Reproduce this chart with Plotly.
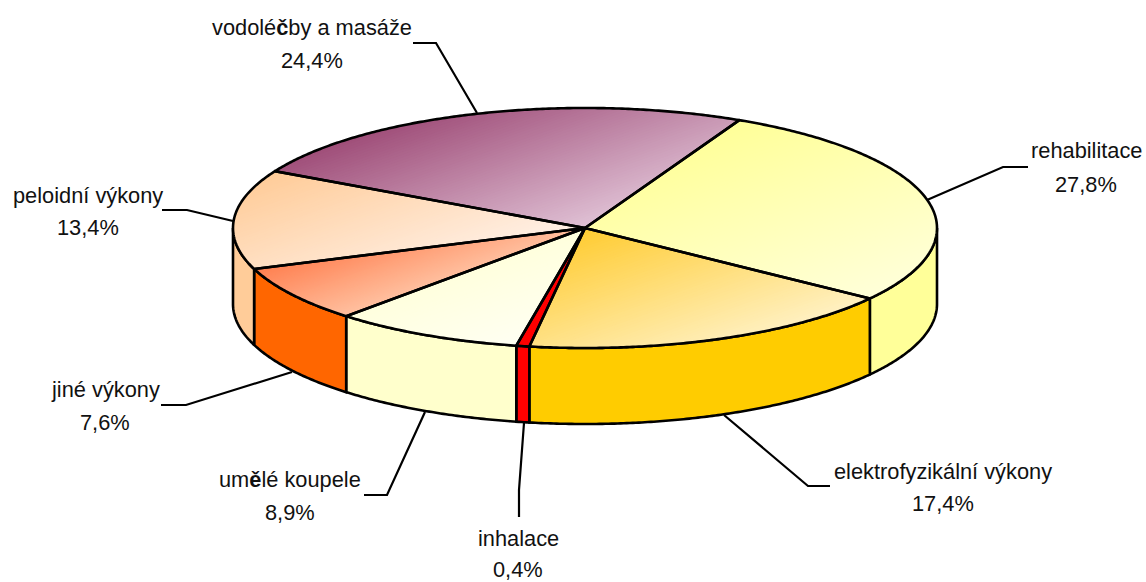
import numpy as np
import plotly.graph_objects as go

categories = ["rehabilitace", "elektrofyzikální výkony", "inhalace", "umělé koupele",
              "jiné výkony", "peloidní výkony", "vodoléčby a masáže"]
printed_percent = [27.8, 17.4, 0.4, 8.9, 7.6, 13.4, 24.4]
# slice sizes as they measure in the picture (the thin red slice is drawn wider than its printed share)
slice_share = [27.8, 17.55, 0.6, 8.75, 7.6, 13.4, 24.4]

wall_colors = ["#FFFF99", "#FFCC00", "#FF0000", "#FFFFCC", "#FF6600", "#FFCC99", "#993366"]
top_start = ["#FFFF99", "#FFCC33", "#FF0000", "#FFFFDD", "#FF8050", "#FFCC99", "#A04F7A"]
top_end = ["#FFFFD8", "#FFF0C0", "#FF0000", "#FFFFF2", "#FFC0A0", "#FFF0E6", "#DFC0D4"]

label_names = ["rehabilitace", "elektrofyzikální výkony", "inhalace", "um<b>ě</b>lé koupele",
               "jiné výkony", "peloidní výkony", "vodolé<b>č</b>by a masáže"]
label_x = [1086, 943, 518, 290, 105, 88, 312]
name_y = [150, 471, 538, 479, 389, 195, 27]
pct_y = [184, 503, 569, 512, 422, 227, 60]
leaders = [
    [(1028, 167), (1003, 167), (927, 200)],
    [(830, 486), (808, 486), (724, 415)],
    [(519, 517), (519, 490), (524, 423)],
    [(364, 495), (387, 495), (425, 412)],
    [(161, 405), (186, 405), (292, 372)],
    [(162, 210), (187, 210), (233, 221)],
    [(413, 43), (436, 43), (477, 113)],
]

CX, CY, RX, RY, DEPTH = 585, 228, 352, 120, 76
START_DEG = -64.0
GRAD_DIR = np.array([0.33, 0.94])
STEPS = 64


def rgb(h):
    return np.array([int(h[i:i + 2], 16) for i in (1, 3, 5)], float)


def arc(a0, a1, dy=0.0):
    t = np.radians(np.linspace(a0, a1, max(3, int(abs(a1 - a0) * 2) + 2)))
    return np.column_stack([CX + RX * np.cos(t), CY + dy + RY * np.sin(t)])


def clip(poly, level):
    """Part of the polygon whose projection on GRAD_DIR is at least level."""
    d = poly @ GRAD_DIR - level
    out = []
    n = len(poly)
    for i in range(n):
        j = (i + 1) % n
        if d[i] >= 0:
            out.append(poly[i])
        if d[i] * d[j] < 0:
            out.append(poly[i] + (poly[j] - poly[i]) * d[i] / (d[i] - d[j]))
    return np.array(out) if len(out) > 2 else None


def area(poly, color, **kw):
    closed = np.vstack([poly, poly[:1]])
    return go.Scatter(x=closed[:, 0], y=closed[:, 1], mode="lines", fill="toself",
                      fillcolor=color, line=dict(width=0), hoverinfo="skip", **kw)


def outline(poly, width=2.6):
    closed = np.vstack([poly, poly[:1]])
    return go.Scatter(x=closed[:, 0], y=closed[:, 1], mode="lines",
                      line=dict(color="black", width=width, simplify=False), hoverinfo="skip")


fig = go.Figure()
sweep = np.array(slice_share) / sum(slice_share) * 360
edges = START_DEG + np.concatenate([[0], np.cumsum(sweep)])

# outer walls (front half of the rim only)
for i in range(len(categories)):
    a0, a1 = max(edges[i], 0), min(edges[i + 1], 180)
    if a1 <= a0:
        continue
    wall = np.vstack([arc(a0, a1), arc(a1, a0, DEPTH)])
    fig.add_trace(area(wall, wall_colors[i]))
    fig.add_trace(outline(wall))

# tops, each shaded by nested fills along the gradient direction
for i in range(len(categories)):
    poly = np.vstack([[(CX, CY)], arc(edges[i], edges[i + 1])])
    proj = poly @ GRAD_DIR
    lo, hi = proj.min(), proj.max()
    c0, c1 = rgb(top_start[i]), rgb(top_end[i])
    steps = 1 if top_start[i] == top_end[i] else STEPS
    for k in range(steps):
        f = k / max(steps - 1, 1)
        c = c0 + (c1 - c0) * f
        piece = clip(poly, lo + (hi - lo) * k / steps) if k else poly
        if piece is not None:
            fig.add_trace(area(piece, f"rgb({c[0]:.0f},{c[1]:.0f},{c[2]:.0f})"))
for i in range(len(categories)):
    fig.add_trace(outline(np.vstack([[(CX, CY)], arc(edges[i], edges[i + 1])])))

# leaders
for pts in leaders:
    p = np.array(pts)
    fig.add_trace(go.Scatter(x=p[:, 0], y=p[:, 1], mode="lines",
                             line=dict(color="black", width=2.2), hoverinfo="skip"))

# labels
for name, pct, x, y0, y1 in zip(label_names, printed_percent, label_x, name_y, pct_y):
    font = dict(family="Liberation Sans", size=21.8, color="#111111")
    fig.add_annotation(x=x, y=y0, text=name, showarrow=False, font=font, xanchor="center", yanchor="middle")
    fig.add_annotation(x=x, y=y1, text=f"{pct:.1f}%".replace(".", ","), showarrow=False,
                       font=font, xanchor="center", yanchor="middle")

fig.update_layout(
    width=1146, height=582, showlegend=False, margin=dict(l=0, r=0, t=0, b=0),
    paper_bgcolor="white", plot_bgcolor="white",
    xaxis=dict(range=[0, 1146], visible=False, fixedrange=True),
    yaxis=dict(range=[582, 0], visible=False, fixedrange=True),
)
fig.write_html("out.html", config=dict(displayModeBar=False),
               post_script="document.body.style.margin='0';document.documentElement.style.overflow='hidden';")
